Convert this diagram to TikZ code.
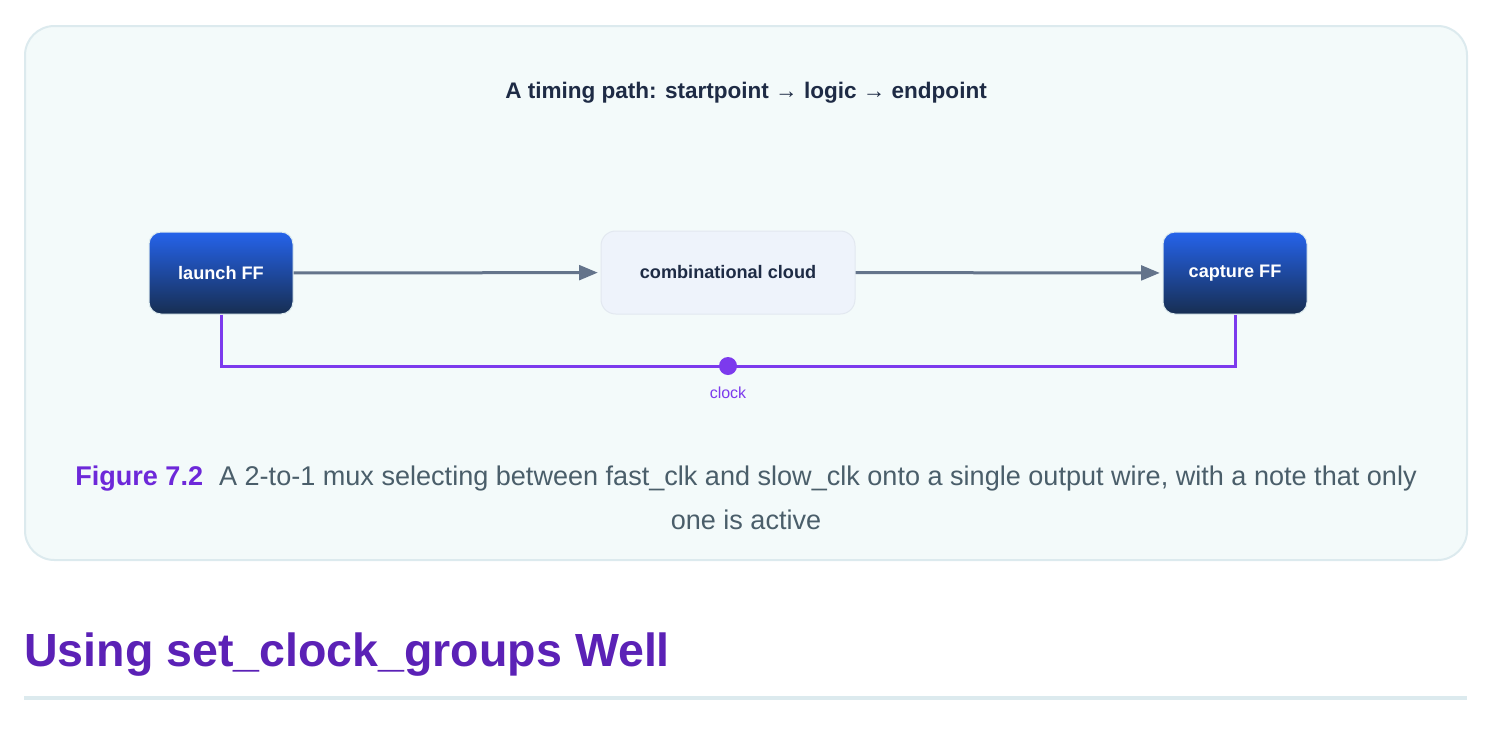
\documentclass[tikz,border=0pt]{standalone}
\usepackage{fontspec}
\setmainfont{Liberation Sans}
\usetikzlibrary{arrows.meta,positioning}

\definecolor{panelfill}{HTML}{F3FAFA}
\definecolor{panelline}{HTML}{DCEAEE}
\definecolor{titlenavy}{HTML}{1E2B45}
\definecolor{fftop}{HTML}{2563EB}
\definecolor{ffbot}{HTML}{172E52}
\definecolor{cloudfill}{HTML}{EEF3FB}
\definecolor{cloudline}{HTML}{E2E8F0}
\definecolor{wiregray}{HTML}{64748B}
\definecolor{clkpurple}{HTML}{7C3AED}
\definecolor{figpurple}{HTML}{6D28D9}
\definecolor{capgray}{HTML}{4A5E6A}
\definecolor{headpurple}{HTML}{5B21B6}

\tikzset{
    flop/.style={rounded corners=9pt, top color=fftop, bottom color=ffbot,
        draw=panelline, line width=0.75pt, text=white,
        minimum width=108pt, minimum height=61.5pt,
        font=\fontsize{13.6}{16}\selectfont\bfseries},
    logicbox/.style={rounded corners=11pt, fill=cloudfill, draw=cloudline,
        line width=0.75pt, text=titlenavy,
        minimum width=190.5pt, minimum height=62.25pt,
        font=\fontsize{13.6}{16}\selectfont\bfseries},
    datawire/.style={draw=wiregray, line width=2.25pt,
        -{Triangle[length=14pt,width=11pt]}, shorten >=2pt},
    clkwire/.style={draw=clkpurple, line width=2.25pt}
}

\begin{document}
\begin{tikzpicture}[x=0.75pt,y=-0.75pt]
    \useasboundingbox (0,0) rectangle (1494,729);

    % panel
    \draw[panelline, fill=panelfill, line width=1.5pt, rounded corners=22pt]
        (25,26) rectangle (1467,560);

    \node[text=titlenavy, font=\fontsize{16.9}{20}\selectfont\bfseries] (title)
        at (746,93) {A timing path: startpoint → logic → endpoint};

    % path
    \node[flop] (launch) at (221,273) {\raisebox{-1pt}{launch FF}};
    \node[logicbox] (logic) at (728,272.5) {\raisebox{-1pt}{combinational cloud}};
    \node[flop] (capture) at (1235,273) {\raisebox{-1pt}{capture FF}};

    \draw[datawire] (launch) -- (logic);
    \draw[datawire] (logic) -- (capture);

    % clock tree
    \coordinate (clk) at (728,366);
    \draw[clkwire] (launch.south) |- (clk) -| (capture.south);
    \fill[clkpurple] (clk) circle (6.75pt);
    \node[text=clkpurple, font=\fontsize{12}{14}\selectfont] (clklabel)
        at (728,393) {clock};

    % caption
    \node[text=capgray, align=center, font=\fontsize{20.3}{33}\selectfont] (caption)
        at (746,498) {{\color{figpurple}\bfseries Figure 7.2}\hspace{12pt}A 2-to-1 mux selecting between fast\_clk and slow\_clk onto a single output wire, with a note that only\\one is active};

    % heading
    \node[text=headpurple, anchor=base west, font=\fontsize{34.9}{40}\selectfont\bfseries, inner sep=0pt] (heading)
        at (24,666) {Using set\_clock\_groups Well};
    \draw[panelline, line width=3pt] (24,698) -- (1467,698);
\end{tikzpicture}
\end{document}
